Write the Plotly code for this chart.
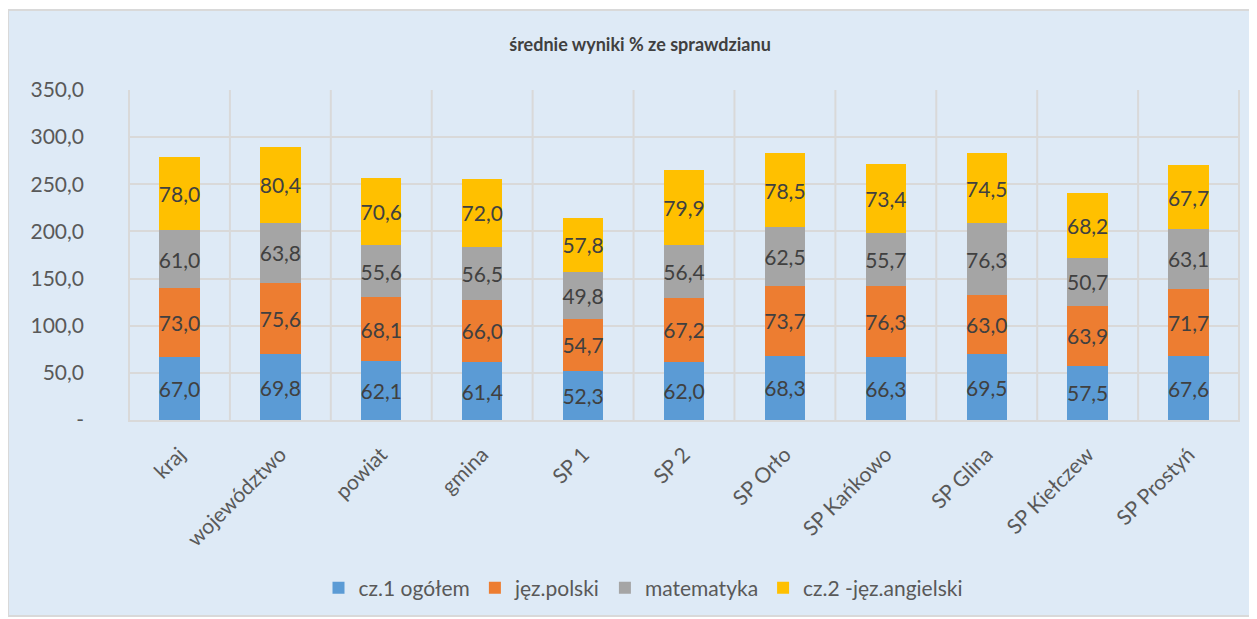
import plotly.graph_objects as go

categories = ["kraj", "województwo", "powiat", "gmina", "SP 1", "SP 2", "SP Orło",
              "SP Kańkowo", "SP Glina", "SP Kiełczew", "SP Prostyń"]
cz1_ogolem = [67.0, 69.8, 62.1, 61.4, 52.3, 62.0, 68.3, 66.3, 69.5, 57.5, 67.6]
jez_polski = [73.0, 75.6, 68.1, 66.0, 54.7, 67.2, 73.7, 76.3, 63.0, 63.9, 71.7]
matematyka = [61.0, 63.8, 55.6, 56.5, 49.8, 56.4, 62.5, 55.7, 76.3, 50.7, 63.1]
jez_angielski = [78.0, 80.4, 70.6, 72.0, 57.8, 79.9, 78.5, 73.4, 74.5, 68.2, 67.7]
series_names = ["cz.1 ogółem", "jęz.polski", "matematyka", "cz.2 -jęz.angielski"]
colors = ["#5B9BD5", "#ED7D31", "#A5A5A5", "#FFC000"]
y_ticks = [0, 50, 100, 150, 200, 250, 300, 350]
y_ticktext = ["-", "50,0", "100,0", "150,0", "200,0", "250,0", "300,0", "350,0"]

FONT = "Lato"
fig = go.Figure()
for name, vals, col in zip(series_names, [cz1_ogolem, jez_polski, matematyka, jez_angielski], colors):
    fig.add_trace(go.Bar(
        name=name, x=categories, y=vals, marker=dict(color=col, line=dict(width=0)),
        text=[f"{v:.1f}".replace(".", ",") for v in vals],
        textposition="inside", insidetextanchor="middle", textangle=0,
        textfont=dict(family=FONT, size=21, color="#404040"),
        constraintext="none", cliponaxis=False,
    ))

OFF = 8  # page body margin
W, H = 1257 - OFF, 619 - OFF
L, R, T, B = 128 - OFF, 17, 90 - OFF, 199
pw, ph = W - L - R, H - T - B

def px_x(x):
    return (x - OFF - L) / pw

def px_y(y):
    return (H - B - (y - OFF)) / ph

shapes = [dict(type="rect", xref="paper", yref="paper",
               x0=px_x(8), x1=px_x(1250), y0=px_y(616), y1=px_y(10),
               fillcolor="#DEEAF6", line=dict(color="#D9D9D9", width=2), layer="below")]
for i in range(len(categories) + 1):
    shapes.append(dict(type="line", xref="x", yref="paper", x0=i - 0.5, x1=i - 0.5,
                       y0=0, y1=1, line=dict(color="#D9D9D9", width=2), layer="below"))

fig.update_layout(
    barmode="stack", bargap=0.6,
    width=W, height=H,
    margin=dict(l=L, r=R, t=T, b=B, autoexpand=False),
    paper_bgcolor="white", plot_bgcolor="rgba(0,0,0,0)",
    font=dict(family=FONT, color="#595959"),
    title=dict(text="<b>średnie wyniki % ze sprawdzianu</b>", x=(640 - OFF) / W, xanchor="center",
               y=1 - (45 - OFF) / H, yanchor="middle", font=dict(family=FONT, size=18, color="#404040")),
    legend=dict(orientation="h", x=px_x(643), xanchor="center", y=px_y(588), yanchor="middle",
                font=dict(family=FONT, size=21, color="#595959"), bgcolor="rgba(0,0,0,0)",
                itemwidth=30, traceorder="normal"),
    shapes=shapes,
    uniformtext=dict(mode=False),
)
fig.update_yaxes(range=[0, 350], tickvals=y_ticks, ticktext=y_ticktext,
                 showgrid=True, gridcolor="#D9D9D9", gridwidth=2, zeroline=False,
                 tickfont=dict(family=FONT, size=21, color="#595959"), ticks="",
                 ticklabelstandoff=43, showline=False)
fig.update_xaxes(tickangle=-45, showgrid=False, showline=True, linecolor="#D9D9D9", linewidth=2,
                 tickfont=dict(family=FONT, size=21, color="#595959"), ticks="",
                 ticklabelstandoff=12)
fig.write_html("out.html")
